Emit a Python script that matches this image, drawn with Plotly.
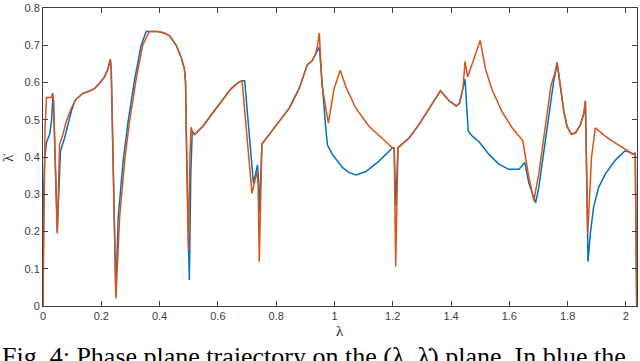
import plotly.graph_objects as go

# ---- data ----
orange_lam = [0.000, 0.003, 0.007, 0.012, 0.028, 0.033, 0.036, 0.049, 0.057, 0.068, 0.080, 0.097,
              0.114, 0.137, 0.160, 0.177, 0.194, 0.211, 0.223, 0.231, 0.234, 0.250, 0.263, 0.280,
              0.297, 0.320, 0.342, 0.365, 0.394, 0.415, 0.434, 0.457, 0.474, 0.485, 0.489, 0.492,
              0.499, 0.504, 0.508, 0.512, 0.520, 0.548, 0.582, 0.616, 0.645, 0.668, 0.683, 0.717,
              0.734, 0.738, 0.742, 0.751, 0.776, 0.811, 0.845, 0.879, 0.896, 0.907, 0.922, 0.934,
              0.942, 0.948, 0.957, 0.979, 0.999, 1.020, 1.039, 1.073, 1.119, 1.164, 1.199, 1.205,
              1.210, 1.218, 1.256, 1.290, 1.324, 1.347, 1.364, 1.393, 1.418, 1.429, 1.441, 1.448,
              1.457, 1.500, 1.518, 1.541, 1.575, 1.610, 1.633, 1.646, 1.667, 1.684, 1.701, 1.724,
              1.743, 1.756, 1.764, 1.775, 1.787, 1.798, 1.813, 1.827, 1.844, 1.856, 1.861, 1.869,
              1.882, 1.895, 1.929, 1.975, 2.009, 2.026, 2.032, 2.037]
orange_val = [0.000, 0.250, 0.480, 0.560, 0.560, 0.572, 0.555, 0.195, 0.434, 0.460, 0.496, 0.531,
              0.555, 0.571, 0.577, 0.584, 0.598, 0.615, 0.637, 0.662, 0.640, 0.020, 0.239, 0.389,
              0.496, 0.611, 0.700, 0.737, 0.737, 0.733, 0.726, 0.700, 0.668, 0.637, 0.602, 0.450,
              0.150, 0.400, 0.480, 0.470, 0.460, 0.482, 0.518, 0.553, 0.583, 0.599, 0.605, 0.302,
              0.361, 0.330, 0.119, 0.435, 0.460, 0.496, 0.531, 0.584, 0.620, 0.648, 0.657, 0.673,
              0.700, 0.733, 0.593, 0.491, 0.584, 0.633, 0.589, 0.531, 0.482, 0.451, 0.425, 0.425,
              0.106, 0.425, 0.451, 0.487, 0.529, 0.558, 0.578, 0.551, 0.537, 0.544, 0.584, 0.657,
              0.615, 0.713, 0.637, 0.580, 0.522, 0.478, 0.456, 0.444, 0.345, 0.283, 0.354, 0.478,
              0.593, 0.624, 0.655, 0.593, 0.522, 0.482, 0.461, 0.465, 0.487, 0.518, 0.551, 0.195,
              0.400, 0.478, 0.456, 0.432, 0.414, 0.407, 0.411, 0.000]

blue_lam = [0.000, 0.002, 0.006, 0.012, 0.023, 0.029, 0.034, 0.036, 0.049, 0.057, 0.060, 0.074,
            0.086, 0.097, 0.109, 0.114, 0.137, 0.160, 0.177, 0.194, 0.211, 0.223, 0.231, 0.234,
            0.250, 0.258, 0.275, 0.292, 0.315, 0.337, 0.354, 0.394, 0.415, 0.434, 0.457, 0.474,
            0.485, 0.489, 0.493, 0.502, 0.507, 0.512, 0.520, 0.548, 0.582, 0.616, 0.645, 0.668,
            0.683, 0.692, 0.722, 0.736, 0.740, 0.743, 0.751, 0.776, 0.811, 0.845, 0.879, 0.896,
            0.907, 0.922, 0.934, 0.948, 0.970, 0.976, 0.993, 1.027, 1.050, 1.075, 1.108, 1.153,
            1.199, 1.205, 1.210, 1.218, 1.256, 1.290, 1.324, 1.347, 1.364, 1.393, 1.418, 1.429,
            1.441, 1.448, 1.459, 1.473, 1.496, 1.530, 1.564, 1.598, 1.633, 1.653, 1.667, 1.690,
            1.701, 1.724, 1.741, 1.752, 1.764, 1.775, 1.787, 1.798, 1.813, 1.827, 1.844, 1.856,
            1.861, 1.870, 1.878, 1.889, 1.906, 1.929, 1.963, 1.996, 2.009, 2.026, 2.032, 2.037]
blue_val = [0.000, 0.300, 0.398, 0.440, 0.461, 0.496, 0.560, 0.550, 0.200, 0.400, 0.416, 0.451,
            0.487, 0.522, 0.550, 0.555, 0.571, 0.577, 0.584, 0.598, 0.615, 0.637, 0.662, 0.640,
            0.030, 0.239, 0.389, 0.496, 0.611, 0.700, 0.737, 0.737, 0.733, 0.726, 0.700, 0.668,
            0.637, 0.602, 0.400, 0.070, 0.350, 0.469, 0.460, 0.482, 0.518, 0.553, 0.583, 0.599,
            0.605, 0.605, 0.329, 0.379, 0.330, 0.250, 0.435, 0.460, 0.496, 0.531, 0.584, 0.620,
            0.648, 0.657, 0.673, 0.695, 0.478, 0.432, 0.407, 0.372, 0.358, 0.352, 0.361, 0.389,
            0.425, 0.425, 0.270, 0.425, 0.451, 0.487, 0.529, 0.558, 0.578, 0.551, 0.537, 0.544,
            0.584, 0.609, 0.469, 0.456, 0.441, 0.407, 0.381, 0.367, 0.367, 0.385, 0.330, 0.277,
            0.318, 0.443, 0.549, 0.602, 0.651, 0.593, 0.522, 0.482, 0.461, 0.465, 0.487, 0.518,
            0.551, 0.119, 0.195, 0.265, 0.318, 0.354, 0.391, 0.416, 0.414, 0.407, 0.411, 0.000]

x_ticks = [0, 0.2, 0.4, 0.6, 0.8, 1.0, 1.2, 1.4, 1.6, 1.8, 2.0]
x_tick_labels = ["0", "0.2", "0.4", "0.6", "0.8", "1", "1.2", "1.4", "1.6", "1.8", "2"]
y_ticks = [0, 0.1, 0.2, 0.3, 0.4, 0.5, 0.6, 0.7, 0.8]
y_tick_labels = ["0", "0.1", "0.2", "0.3", "0.4", "0.5", "0.6", "0.7", "0.8"]

caption = "Fig. 4: Phase plane trajectory on the (λ, λ\u0307) plane. In blue the"

fig = go.Figure()
fig.add_trace(go.Scatter(x=blue_lam, y=blue_val, mode="lines",
                         line=dict(color="#0072BD", width=1.5), showlegend=False))
fig.add_trace(go.Scatter(x=orange_lam, y=orange_val, mode="lines",
                         line=dict(color="#D95319", width=1.5), showlegend=False))

axis_common = dict(showgrid=False, zeroline=False, showline=True, linecolor="#404040",
                   linewidth=1, mirror="ticks", ticks="inside", ticklen=5, tickcolor="#404040",
                   ticklabeloverflow="allow",
                   tickfont=dict(family="Liberation Sans, Arial", size=11, color="#404040"))
fig.update_xaxes(range=[0, 2.038], tickvals=x_ticks, ticktext=x_tick_labels, **axis_common)
fig.update_yaxes(range=[0, 0.8], tickvals=y_ticks, ticktext=y_tick_labels, **axis_common)

fig.add_annotation(text="λ", xref="paper", yref="paper", x=0.5, y=-0.083,
                   showarrow=False, xanchor="center", yanchor="middle",
                   font=dict(family="Liberation Serif", size=15, color="#262626"))
fig.add_annotation(text="λ\u0307", xref="paper", yref="paper", x=-0.058, y=0.495,
                   showarrow=False, xanchor="center", yanchor="middle", textangle=-90,
                   font=dict(family="Liberation Serif", size=15, color="#262626"))
fig.add_annotation(text=caption, xref="paper", yref="paper", x=-0.072, y=-0.114,
                   showarrow=False, xanchor="left", yanchor="top",
                   font=dict(family="Liberation Serif", size=26, color="#000000"))

fig.update_layout(width=640, height=361, margin=dict(l=43, r=2, t=5, b=55),
                  plot_bgcolor="white", paper_bgcolor="white")
fig.write_html("out.html", config={"displayModeBar": False},
               post_script="document.body.style.margin='0px';document.body.style.overflow='hidden';")
